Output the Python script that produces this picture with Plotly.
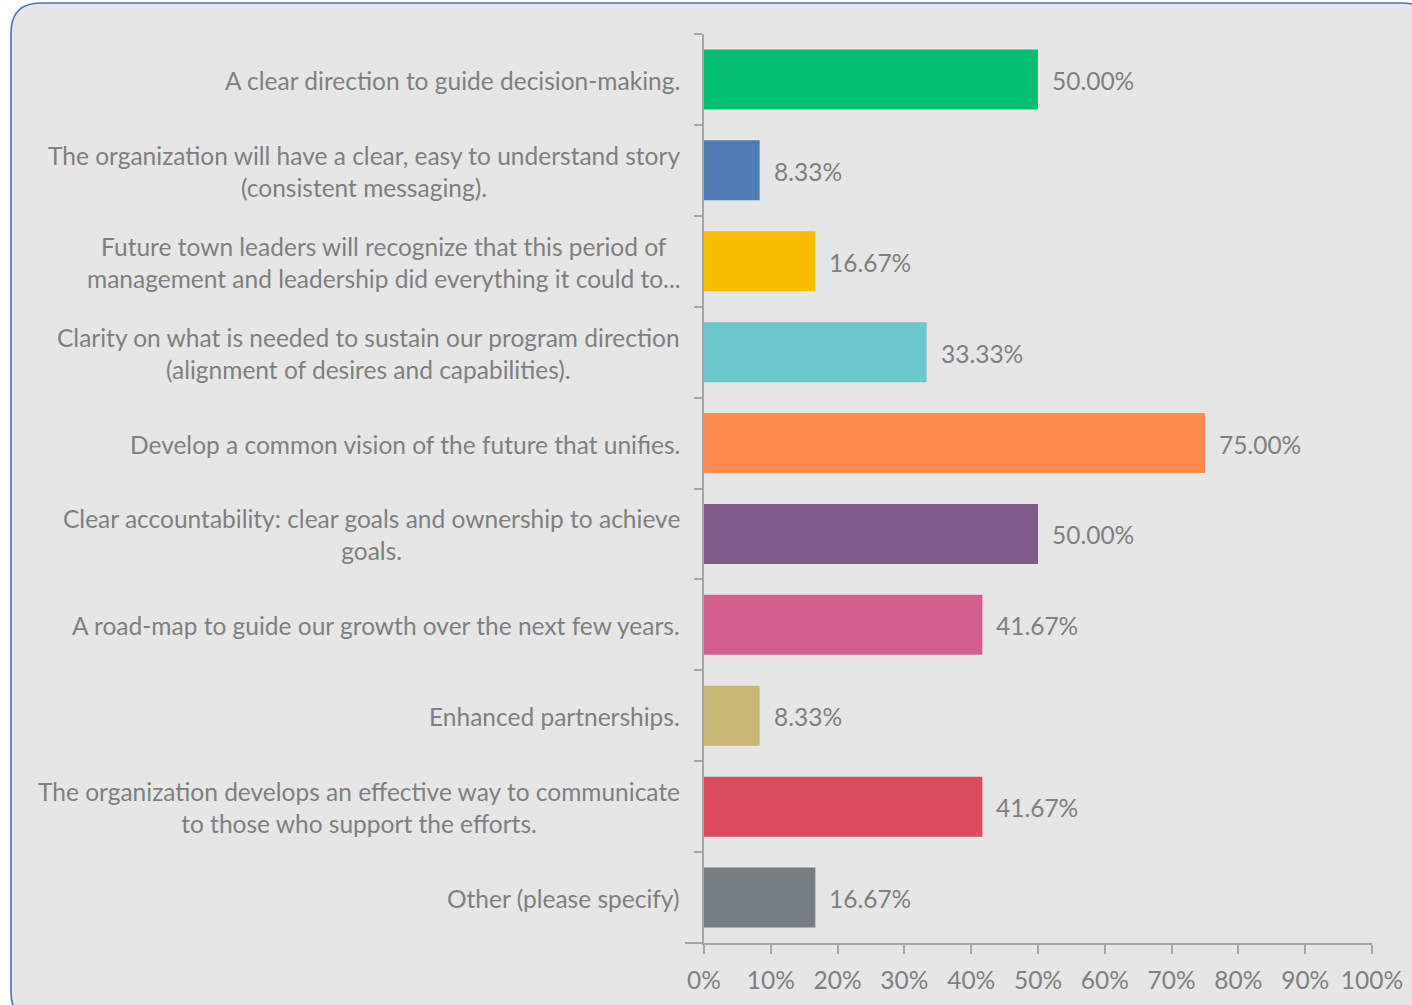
import plotly.graph_objects as go

# Survey answers (top to bottom) and share of respondents (%)
categories = [
    "A clear direction to guide decision-making.",
    "The organization will have a clear, easy to understand story<br>(consistent messaging).",
    "Future town leaders will recognize that this period of<br>management and leadership did everything it could to...",
    "Clarity on what is needed to sustain our program direction<br>(alignment of desires and capabilities).",
    "Develop a common vision of the future that unifies.",
    "Clear accountability: clear goals and ownership to achieve<br>goals.",
    "A road-map to guide our growth over the next few years.",
    "Enhanced partnerships.",
    "The organization develops an effective way to communicate<br>to those who support the efforts.",
    "Other (please specify)",
]
values = [50.00, 8.33, 16.67, 33.33, 75.00, 50.00, 41.67, 8.33, 41.67, 16.67]
bar_colors = [
    "#00BF6F", "#507CB6", "#F9BE00", "#6BC8CD", "#FF8B4F",
    "#7F5A8A", "#D25F90", "#C9B875", "#DB4D5C", "#767D85",
]
x_ticks = [0, 10, 20, 30, 40, 50, 60, 70, 80, 90, 100]
x_tick_text = [f"{t}%" for t in x_ticks]

W, H = 1412, 1005
L, R, T, B = 704, 40, 34, 62
PW, PH = W - L - R, H - T - B

FONT = "Lato"
FS = 24.5
GREY = "#7f7f7f"
AXIS = "#a6a6a6"

ids = list(range(len(categories)))

fig = go.Figure(
    go.Bar(
        x=values,
        y=ids,
        orientation="h",
        marker=dict(color=bar_colors, line=dict(width=0)),
        width=0.66,
        hoverinfo="skip",
    )
)

annotations = []
# value labels at bar ends
for i, v in zip(ids, values):
    annotations.append(dict(
        x=v, y=i, xref="x", yref="y", text=f"{v:.2f}%",
        showarrow=False, xanchor="left", yanchor="middle", xshift=12, yshift=-1,
        font=dict(family=FONT, size=FS, color=GREY),
    ))
# category labels, centred line by line
for i, c in zip(ids, categories):
    annotations.append(dict(
        x=0, y=i, xref="paper", yref="y", text=c,
        showarrow=False, xanchor="right", yanchor="middle", align="center",
        xshift=-22, yshift=-1,
        font=dict(family=FONT, size=FS, color=GREY),
    ))


def P(px, py):
    a, b = (px - L) / PW, (H - B - py) / PH
    return f"{a:.5f},{b:.5f}"


# rounded panel frame
x0, y0, x1, y1, r = 11, 3, 1432, 1022, 30
path = (
    f"M {P(x0 + r, y0)} L {P(x1 - r, y0)} Q {P(x1, y0)} {P(x1, y0 + r)} "
    f"L {P(x1, y1 - r)} Q {P(x1, y1)} {P(x1 - r, y1)} "
    f"L {P(x0 + r, y1)} Q {P(x0, y1)} {P(x0, y1 - r)} "
    f"L {P(x0, y0 + r)} Q {P(x0, y0)} {P(x0 + r, y0)} Z"
)
shapes = [
    dict(type="path", path=path, xref="paper", yref="paper",
         fillcolor="#e6e6e6", line=dict(color="#4a72b2", width=1.6), layer="below"),
    # longer boundary tick where the two axes meet
    dict(type="line", xref="paper", yref="paper",
         x0=(685 - L) / PW, x1=0, y0=0, y1=0,
         line=dict(color=AXIS, width=2), layer="above"),
]

fig.update_layout(
    width=W, height=H,
    margin=dict(l=L, r=R, t=T, b=B, autoexpand=False),
    paper_bgcolor="white",
    plot_bgcolor="rgba(0,0,0,0)",
    showlegend=False,
    font=dict(family=FONT, color=GREY),
    annotations=annotations,
    shapes=shapes,
    xaxis=dict(
        range=[0, 100], tickmode="array", tickvals=x_ticks, ticktext=x_tick_text,
        showgrid=False, zeroline=False,
        showline=True, linecolor=AXIS, linewidth=2,
        ticks="outside", ticklen=9, tickwidth=2, tickcolor=AXIS,
        ticklabelstandoff=6,
        tickfont=dict(family=FONT, size=FS, color=GREY),
        fixedrange=True,
    ),
    yaxis=dict(
        type="category", categoryorder="array", categoryarray=ids,
        autorange="reversed", range=[len(ids) - 0.5, -0.5],
        tickvals=ids, showticklabels=False, tickson="boundaries",
        showgrid=False, zeroline=False,
        showline=True, linecolor=AXIS, linewidth=2,
        ticks="outside", ticklen=8, tickwidth=2, tickcolor=AXIS,
        fixedrange=True,
    ),
)

fig.write_html("out.html", config={"displayModeBar": False})
